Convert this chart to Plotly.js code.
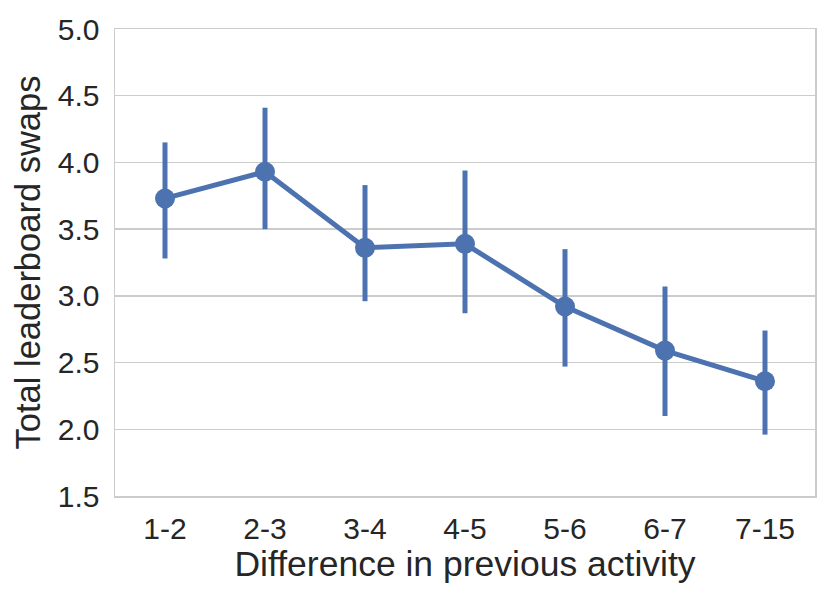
<!DOCTYPE html>
<html>
<head>
<meta charset="utf-8">
<script src="https://cdn.plot.ly/plotly-3.0.1.min.js"></script>
<style>
  html, body { margin: 0; padding: 0; background: #fff; }
  #chart { width: 830px; height: 599px; }
</style>
</head>
<body>
<div id="chart"></div>
<script>
// values
const categories = ['1-2', '2-3', '3-4', '4-5', '5-6', '6-7', '7-15'];
const swaps = [3.73, 3.93, 3.36, 3.39, 2.92, 2.59, 2.36];
const ciHigh = [4.15, 4.41, 3.83, 3.94, 3.35, 3.07, 2.74];
const ciLow = [3.28, 3.50, 2.96, 2.87, 2.47, 2.10, 1.96];

const blue = '#4c72b0';
const fontFamily = '"Liberation Sans", Arial, sans-serif';

var trace = [{
    type: 'scatter',
    mode: 'lines+markers',
    x: categories,
    y: swaps,
    line: {color: blue, width: 5},
    marker: {color: blue, size: 20},
    error_y: {
        type: 'data',
        symmetric: false,
        array: swaps.map((v, i) => +(ciHigh[i] - v).toFixed(3)),
        arrayminus: swaps.map((v, i) => +(v - ciLow[i]).toFixed(3)),
        color: blue,
        thickness: 5,
        width: 0
    },
    hoverinfo: 'x+y'
}];

var layout = {
    width: 830,
    height: 599,
    margin: {l: 115, r: 15, t: 29, b: 103},
    paper_bgcolor: '#fff',
    plot_bgcolor: '#fff',
    showlegend: false,
    font: {family: fontFamily, color: '#262626', size: 30},
    xaxis: {
        type: 'category',
        range: [-0.5, 6.5],
        showgrid: false,
        showline: true,
        mirror: true,
        linecolor: '#cccccc',
        linewidth: 1.5,
        ticks: '',
        ticklabelstandoff: 5,
        tickfont: {size: 30, color: '#262626'},
        title: {text: 'Difference in previous activity', font: {size: 35.5, color: '#262626'}, standoff: 7}
    },
    yaxis: {
        range: [1.5, 5.0],
        dtick: 0.5,
        tickformat: '.1f',
        showgrid: true,
        gridcolor: '#cccccc',
        gridwidth: 1.5,
        zeroline: false,
        showline: true,
        mirror: true,
        linecolor: '#cccccc',
        linewidth: 1.5,
        ticks: '',
        ticklabelstandoff: 8,
        tickfont: {size: 30, color: '#262626'},
        title: {text: 'Total leaderboard swaps', font: {size: 34.5, color: '#262626'}, standoff: 6}
    }
};

Plotly.newPlot('chart', trace, layout, {displayModeBar: false, staticPlot: true});
</script>
</body>
</html>
